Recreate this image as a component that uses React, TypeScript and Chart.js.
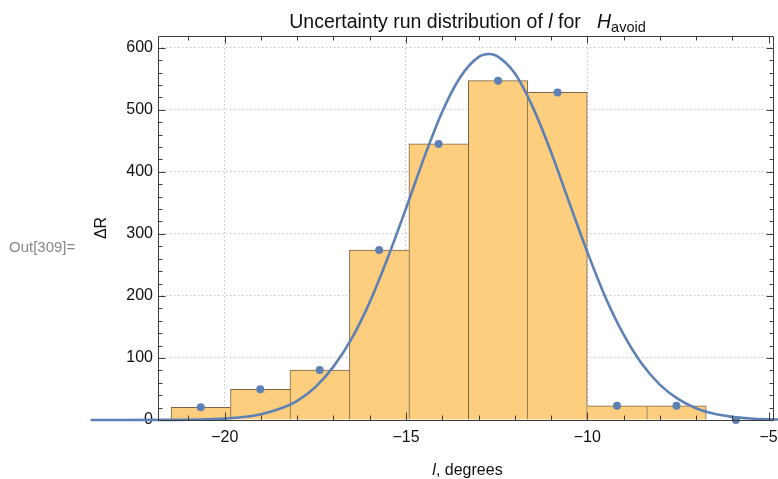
import React, { useEffect, useRef } from 'react';
import { Chart, registerables } from 'chart.js';

Chart.register(...registerables);

// ---- data ----
const binCenters = [-20.66, -19.02, -17.38, -15.74, -14.1, -12.46, -10.82, -9.18, -7.54];
const binCounts = [20.5, 49.5, 80.5, 274, 445, 547, 528, 23, 23];

const pointX = [-20.66, -19.02, -17.38, -15.74, -14.1, -12.46, -10.82, -9.18, -7.54, -5.9];
const pointY = [20.5, 49.5, 80.5, 274, 445, 547, 528, 23, 23, 0];

const curveX = [-23.7, -21.5, -21, -20.5, -20, -19.5, -19, -18.5, -18, -17.5, -17, -16.5, -16, -15.5, -15, -14.5, -14, -13.5, -13, -12.7, -12.5, -12, -11.5, -11, -10.5, -10, -9.5, -9, -8.5, -8, -7.5, -7, -6.5, -6, -5.5, -5, -4.5];
const curveY = [0, 0.2, 0.4, 1, 2.2, 4.7, 9.3, 17.6, 31, 53, 86, 131, 190, 262, 341, 423, 497, 553, 585, 590, 587, 559, 504, 432, 351, 271, 198, 138, 91, 57, 34, 19, 10, 5, 2.4, 1.1, 0.5];

const xTickValues = [-20, -15, -10, -5];
const yTickValues = [0, 100, 200, 300, 400, 500, 600];

const titleParts = [
  { text: 'Uncertainty run distribution of ', style: 'normal' },
  { text: 'l', style: 'italic' },
  { text: ' for ', style: 'normal' },
  { text: '  ', style: 'gap' },
  { text: 'H', style: 'italic' },
  { text: 'avoid', style: 'sub' },
];
const xLabelParts = [
  { text: 'l', style: 'italic' },
  { text: ', degrees', style: 'normal' },
];
const yLabel = 'ΔR';
const outLabel = 'Out[309]=';

const FAMILY = '"Liberation Sans", Arial, Helvetica, sans-serif';
const BLUE = '#5e81b5';

function fmt(v: number) {
  return v < 0 ? '\u2212' + Math.abs(v) : String(v);
}

function drawParts(ctx: CanvasRenderingContext2D, parts: any[], cx: number, baseline: number, size: number, subSize: number) {
  const fontFor = (p: any) =>
    p.style === 'italic' ? `italic ${size}px ${FAMILY}` : p.style === 'sub' ? `${subSize}px ${FAMILY}` : `${size}px ${FAMILY}`;
  let total = 0;
  const widths = parts.map((p) => {
    ctx.font = fontFor(p);
    const w = ctx.measureText(p.text).width;
    total += w;
    return w;
  });
  let x = cx - total / 2;
  parts.forEach((p, i) => {
    ctx.font = fontFor(p);
    if (p.style !== 'gap') {
      ctx.fillText(p.text, x, baseline + (p.style === 'sub' ? size * 0.25 : 0));
    }
    x += widths[i];
  });
}

const framePlugin = {
  id: 'frameTicks',
  afterDatasetsDraw(chart: any) {
    const { ctx, chartArea: a, scales } = chart;
    const x = scales.x;
    const y = scales.y;
    ctx.save();
    ctx.strokeStyle = '#3c3c3c';
    ctx.lineWidth = 1;
    ctx.beginPath();
    ctx.moveTo(a.left + 0.5, a.top + 0.5);
    ctx.lineTo(a.right - 0.5, a.top + 0.5);
    ctx.lineTo(a.right - 0.5, a.bottom + 0.5);
    ctx.lineTo(a.left + 0.5, a.bottom + 0.5);
    ctx.closePath();
    ctx.stroke();
    ctx.beginPath();
    for (let v = Math.ceil(x.min); v <= Math.floor(x.max); v++) {
      const px = Math.round(x.getPixelForValue(v)) + 0.5;
      const len = v % 5 === 0 ? 7.5 : 4.5;
      ctx.moveTo(px, a.bottom);
      ctx.lineTo(px, a.bottom - len);
      ctx.moveTo(px, a.top);
      ctx.lineTo(px, a.top + len);
    }
    for (let v = 0; v <= y.max; v += 20) {
      const py = Math.round(y.getPixelForValue(v)) + 0.5;
      const len = v % 100 === 0 ? 7.5 : 4.5;
      ctx.moveTo(a.left, py);
      ctx.lineTo(a.left + len, py);
      ctx.moveTo(a.right, py);
      ctx.lineTo(a.right - len, py);
    }
    ctx.stroke();
    ctx.restore();
  },
  afterDraw(chart: any) {
    const { ctx, chartArea: a } = chart;
    ctx.save();
    ctx.fillStyle = '#111';
    ctx.textBaseline = 'alphabetic';
    ctx.textAlign = 'left';
    const cx = (a.left + a.right) / 2 + 1.5;
    drawParts(ctx, titleParts, cx, 27.5, 19.5, 14.5);
    drawParts(ctx, xLabelParts, cx, 474.5, 16, 12);
    // y label rotated
    ctx.save();
    ctx.translate(106, (a.top + a.bottom) / 2);
    ctx.rotate(-Math.PI / 2);
    ctx.font = `16px ${FAMILY}`;
    ctx.textAlign = 'center';
    ctx.fillText(yLabel, 0, 0);
    ctx.restore();
    // Out label
    ctx.fillStyle = '#888';
    ctx.font = `15px ${FAMILY}`;
    ctx.textAlign = 'left';
    ctx.fillText(outLabel, 9, 252);
    ctx.restore();
  },
};

export default function App() {
  const ref = useRef<HTMLCanvasElement | null>(null);
  useEffect(() => {
    if (!ref.current) return;
    const h = binCounts;
    const chart = new Chart(ref.current, {
      type: 'bar',
      data: {
        datasets: [
          {
            type: 'scatter',
            data: pointX.map((x, i) => ({ x, y: pointY[i] })),
            backgroundColor: BLUE,
            borderWidth: 0,
            pointRadius: 4,
            clip: false,
            order: 0,
          } as any,
          {
            type: 'line',
            data: curveX.map((x, i) => ({ x, y: curveY[i] })),
            borderColor: BLUE,
            borderWidth: 2.6,
            pointRadius: 0,
            fill: false,
            cubicInterpolationMode: 'monotone',
            clip: false,
            order: 1,
          } as any,
          {
            type: 'bar',
            data: binCenters.map((x, i) => ({ x, y: binCounts[i] })),
            backgroundColor: '#fcce7e',
            borderColor: '#7a6444',
            borderWidth: (c: any) => {
              const i = c.dataIndex;
              return {
                top: 1,
                bottom: 0,
                left: i === 0 || h[i] >= h[i - 1] ? 1 : 0,
                right: i === h.length - 1 || h[i] > h[i + 1] ? 1 : 0,
              };
            },
            barPercentage: 1,
            categoryPercentage: 1,
            order: 2,
          } as any,
        ],
      },
      options: {
        animation: false,
        responsive: false,
        events: [],
        layout: { padding: { top: 36, right: 1, left: 0, bottom: 0 } },
        plugins: { legend: { display: false }, title: { display: false }, tooltip: { enabled: false } },
        scales: {
          x: {
            type: 'linear',
            min: -21.84,
            max: -4.85,
            offset: false,
            grid: {
              offset: false,
              drawTicks: false,
              color: (c: any) => (c.tick && c.tick.value === -5 ? 'rgba(0,0,0,0)' : '#bdbdbd'),
              lineWidth: 1,
            },
            border: { display: false, dash: [1.3, 2.7] },
            ticks: {
              autoSkip: false,
              maxRotation: 0,
              padding: 8,
              color: '#111',
              font: { family: FAMILY, size: 16 },
              callback: (v: any) => fmt(Number(v)),
            },
            afterBuildTicks: (s: any) => {
              s.ticks = xTickValues.map((value) => ({ value }));
            },
            afterFit: (s: any) => {
              s.height = 59;
              s.paddingLeft = 0;
              s.paddingRight = 0;
            },
          },
          y: {
            type: 'linear',
            min: 0,
            max: 619,
            grid: {
              drawTicks: false,
              color: (c: any) => (c.tick && c.tick.value === 0 ? 'rgba(0,0,0,0)' : '#bdbdbd'),
              lineWidth: 1,
            },
            border: { display: false, dash: [1.3, 2.7] },
            ticks: {
              autoSkip: false,
              padding: 5,
              color: '#111',
              font: { family: FAMILY, size: 16 },
              callback: (v: any) => fmt(Number(v)),
            },
            afterBuildTicks: (s: any) => {
              s.ticks = yTickValues.map((value) => ({ value }));
            },
            afterFit: (s: any) => {
              s.width = 158;
              s.paddingTop = 0;
              s.paddingBottom = 0;
            },
          },
        },
      } as any,
      plugins: [framePlugin],
    });
    return () => chart.destroy();
  }, []);
  return (
    <div style={{ position: 'absolute', left: 0, top: 0, width: 778, height: 479, background: '#fff' }}>
      <canvas ref={ref} width={778} height={479} style={{ display: 'block' }} />
    </div>
  );
}
